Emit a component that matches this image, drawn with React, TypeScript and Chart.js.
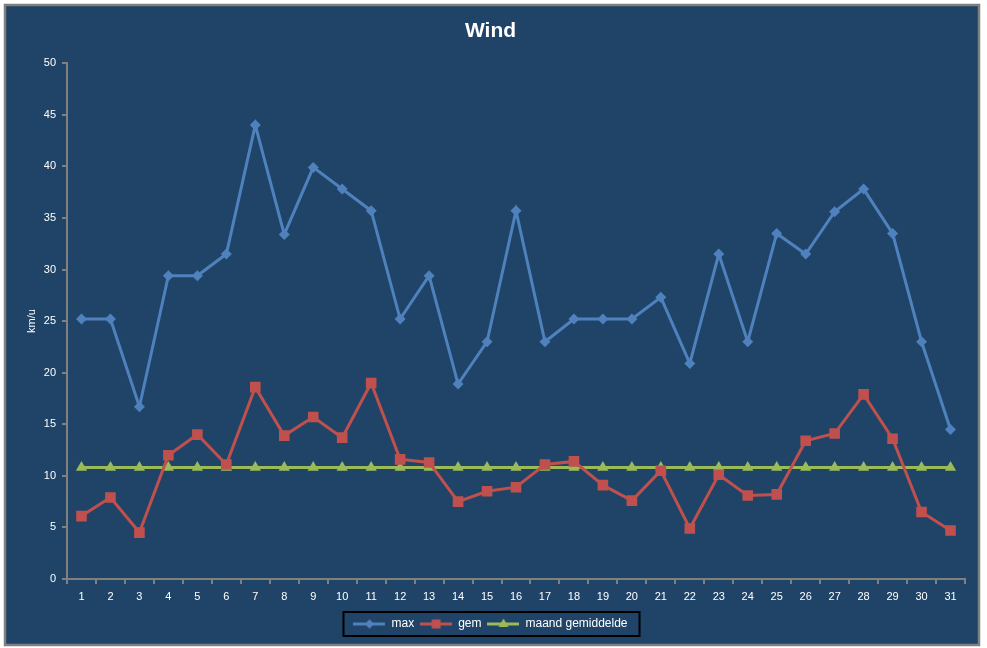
import React, { useEffect, useRef } from "react";
import { Chart, registerables } from "chart.js";

Chart.register(...registerables);

const days: string[] = Array.from({ length: 31 }, (_, i) => String(i + 1));

const maxValues: number[] = [
  25.2, 25.2, 16.7, 29.4, 29.4, 31.5, 44.0, 33.4, 39.9, 37.8,
  35.7, 25.2, 29.4, 18.9, 23.0, 35.7, 23.0, 25.2, 25.2, 25.2,
  27.3, 20.9, 31.5, 23.0, 33.5, 31.5, 35.6, 37.8, 33.5, 23.0, 14.5,
];

const gemValues: number[] = [
  6.1, 7.9, 4.5, 12.0, 14.0, 11.1, 18.6, 13.9, 15.7, 13.7,
  19.0, 11.6, 11.3, 7.5, 8.5, 8.9, 11.1, 11.4, 9.1, 7.6,
  10.5, 4.9, 10.1, 8.1, 8.2, 13.4, 14.1, 17.9, 13.6, 6.5, 4.7,
];

const maandGemiddelde: number[] = days.map(() => 10.8);

const seriesNames: string[] = ["max", "gem", "maand gemiddelde"];
const seriesColors: string[] = ["#4F81BD", "#C0504D", "#9BBB59"];
const seriesMarkers: string[] = ["rectRot", "rect", "triangle"];
const seriesRadius: number[] = [5.5, 7.5, 6.5];

const yTicks = { min: 0, max: 50, step: 5 };

const BG = "#1F4468";
const AXIS = "#808080";
const FONT = "'Liberation Sans', Arial, sans-serif";

function legendIcon(color: string, marker: string, radius: number): HTMLCanvasElement {
  const c = document.createElement("canvas");
  c.width = 32;
  c.height = 14;
  const ctx = c.getContext("2d")!;
  ctx.strokeStyle = color;
  ctx.fillStyle = color;
  ctx.lineWidth = 3;
  ctx.beginPath();
  ctx.moveTo(0, 7);
  ctx.lineTo(32, 7);
  ctx.stroke();
  const r = radius * 0.85;
  ctx.beginPath();
  if (marker === "rectRot") {
    ctx.moveTo(16, 7 - r);
    ctx.lineTo(16 + r, 7);
    ctx.lineTo(16, 7 + r);
    ctx.lineTo(16 - r, 7);
    ctx.closePath();
  } else if (marker === "rect") {
    const s = r * Math.SQRT1_2;
    ctx.rect(16 - s, 7 - s, 2 * s, 2 * s);
  } else {
    ctx.moveTo(16, 7 - r);
    ctx.lineTo(16 + r * 0.9, 7 + r * 0.55);
    ctx.lineTo(16 - r * 0.9, 7 + r * 0.55);
    ctx.closePath();
  }
  ctx.fill();
  return c;
}

const framePlugin = {
  id: "frame",
  beforeDraw(chart: any) {
    const ctx = chart.ctx;
    ctx.save();
    ctx.fillStyle = "#ffffff";
    ctx.fillRect(0, 0, chart.width, chart.height);
    ctx.fillStyle = BG;
    ctx.fillRect(5, 5, 974, 640);
    ctx.strokeStyle = AXIS;
    ctx.lineWidth = 2.5;
    ctx.strokeRect(5, 5, 974, 640);
    ctx.restore();
  },
  afterDraw(chart: any) {
    const lg = chart.legend;
    if (!lg || !lg.legendHitBoxes || !lg.legendHitBoxes.length) return;
    const hb = lg.legendHitBoxes;
    let l = Infinity, r = -Infinity, t = Infinity, b = -Infinity;
    hb.forEach((h: any) => {
      l = Math.min(l, h.left);
      r = Math.max(r, h.left + h.width);
      t = Math.min(t, h.top);
      b = Math.max(b, h.top + h.height);
    });
    const cy = (t + b) / 2;
    const ctx = chart.ctx;
    ctx.save();
    ctx.strokeStyle = "#000000";
    ctx.lineWidth = 2;
    ctx.strokeRect(l - 10, cy - 12, r - l + 22, 24);
    ctx.restore();
  },
};

export default function App() {
  const ref = useRef<HTMLCanvasElement | null>(null);

  useEffect(() => {
    if (!ref.current) return;
    const datasets = [maxValues, gemValues, maandGemiddelde].map((vals, i) => ({
      label: seriesNames[i],
      data: vals,
      borderColor: seriesColors[i],
      backgroundColor: seriesColors[i],
      pointBackgroundColor: seriesColors[i],
      pointBorderColor: seriesColors[i],
      pointStyle: seriesMarkers[i] as any,
      pointRadius: seriesRadius[i],
      pointBorderWidth: 0,
      borderWidth: 3,
      tension: 0,
      fill: false,
    }));

    const icons = seriesNames.map((_, i) => legendIcon(seriesColors[i], seriesMarkers[i], seriesRadius[i]));

    const chart = new Chart(ref.current, {
      type: "line",
      data: { labels: days, datasets },
      plugins: [framePlugin],
      options: {
        animation: false,
        responsive: false,
        devicePixelRatio: 1,
        layout: { padding: { left: 16, right: 22, top: 0, bottom: 8 } },
        plugins: {
          title: {
            display: true,
            text: "Wind",
            color: "#ffffff",
            font: { family: FONT, size: 21, weight: "bold" },
            padding: { top: 19, bottom: 19 },
          },
          legend: {
            position: "bottom",
            labels: {
              color: "#ffffff",
              font: { family: FONT, size: 12 },
              padding: 6,
              usePointStyle: true,
              pointStyleWidth: 32,
              generateLabels: () =>
                seriesNames.map((n, i) => ({
                  text: n,
                  fillStyle: seriesColors[i],
                  strokeStyle: seriesColors[i],
                  pointStyle: icons[i],
                  lineWidth: 0,
                  hidden: false,
                  datasetIndex: i,
                  fontColor: "#ffffff",
                })) as any,
            },
          },
          tooltip: { enabled: false },
        },
        scales: {
          x: {
            type: "category",
            offset: true,
            grid: {
              display: true,
              offset: true,
              drawOnChartArea: false,
              drawTicks: true,
              tickLength: 5,
              color: AXIS,
              lineWidth: 2,
            },
            border: { display: true, color: AXIS, width: 2 },
            ticks: {
              color: "#ffffff",
              font: { family: FONT, size: 11 },
              padding: 6,
              maxRotation: 0,
              autoSkip: false,
            },
            afterFit: (scale: any) => {
              scale.height = 33;
            },
          },
          y: {
            min: yTicks.min,
            max: yTicks.max,
            ticks: {
              stepSize: yTicks.step,
              color: "#ffffff",
              font: { family: FONT, size: 11 },
              padding: 6,
            },
            grid: {
              display: true,
              drawOnChartArea: false,
              drawTicks: true,
              tickLength: 5,
              color: AXIS,
              lineWidth: 2,
            },
            border: { display: true, color: AXIS, width: 2 },
            title: {
              display: true,
              text: "km/u",
              color: "#ffffff",
              font: { family: FONT, size: 11 },
              padding: { top: 9, bottom: 0 },
            },
            afterFit: (scale: any) => {
              scale.width = 51;
            },
          },
        },
      } as any,
    });
    return () => chart.destroy();
  }, []);

  return (
    <div style={{ position: "absolute", left: 0, top: 0, width: 987, height: 648 }}>
      <canvas ref={ref} width={987} height={648} style={{ display: "block" }} />
    </div>
  );
}
